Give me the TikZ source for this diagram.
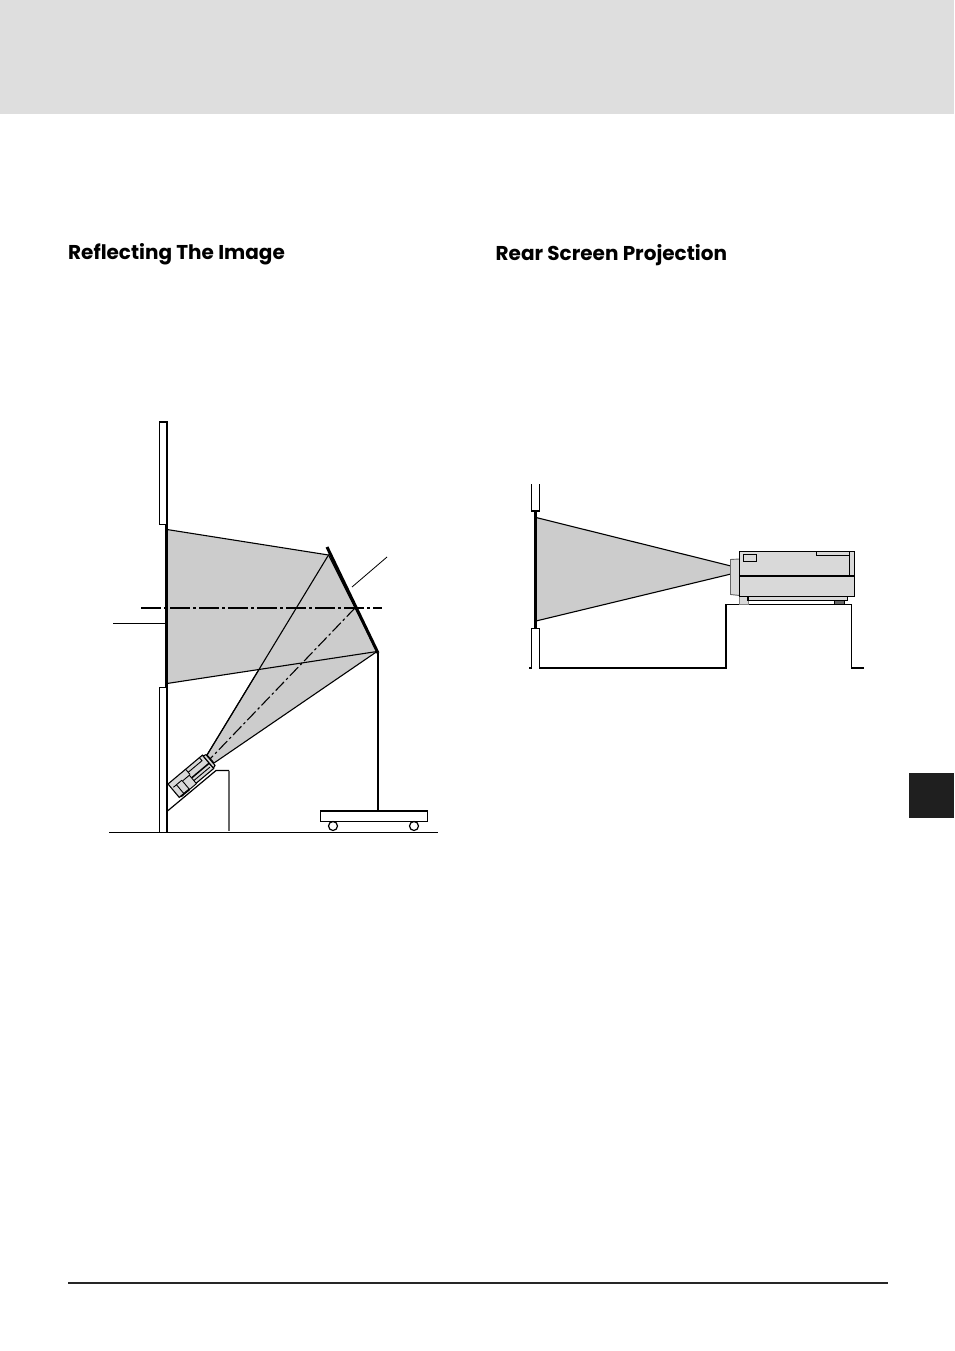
\documentclass[tikz,border=0pt]{standalone}
\usepackage{fontspec}
\setmainfont{Poppins}
\definecolor{bandgray}{gray}{0.87}
\definecolor{beamgray}{gray}{0.80}
\definecolor{bodygray}{gray}{0.85}
\tikzset{
  heading/.style={anchor=base west,inner sep=0pt,font=\fontsize{20}{24}\selectfont\bfseries},
  thin line/.style={line width=1.2pt},
  center line/.style={line width=1.1pt,dash pattern=on 20pt off 3pt on 3pt off 3pt},
  axis line/.style={line width=1.1pt,dash pattern=on 12pt off 3pt on 2.5pt off 3pt},
  screen line/.style={line width=3pt},
  beam/.style={fill=beamgray,draw=black,line width=1.1pt,line join=round},
  body/.style={fill=bodygray,draw=black,line width=1.1pt}
}
\begin{document}
\begin{tikzpicture}[x=1pt,y=-1pt]
\useasboundingbox (0,0) rectangle (954,1351);
\fill[bandgray] (0,0) rectangle (954,114);
\fill[black!88] (909,773) rectangle (954,818);
\draw[line width=2.8pt,black!85] (68,1283) -- (888,1283);
\node[heading] (lefthead) at (68,259) {Reflecting The Image};
\node[heading] (righthead) at (495.5,260) {Rear Screen Projection};

\coordinate (ltop) at (167,529.5); \coordinate (lbot) at (167,683.5);
\coordinate (mtop) at (328.5,555); \coordinate (mbot) at (377,651.5);
\coordinate (lensa) at (207,755); \coordinate (lensb) at (214,763);
\coordinate (mmid) at (355,608);
\draw[thin line] (159.5,422) rectangle (167,524.5);
\draw[thin line] (159.5,832) -- (159.5,687.5) -- (167,687.5) -- (167,832);
\draw[beam] (lensa) -- (mtop) -- (mbot) -- (lensb) -- cycle;
\draw[beam] (ltop) -- (mtop) -- (mbot) -- (lbot) -- cycle;
\draw[line width=1.1pt] (mtop) -- (lensa);
\draw[center line] (141,608) -- (382,608);
\draw[axis line] (mmid) -- (210,759);
\draw[screen line] (166,524) -- (166,688);
\draw[line width=3pt] (327,547) -- (378,653);
\draw[thin line] (113,623.5) -- (165,623.5);
\draw[line width=.8pt] (352,587) -- (387,557);
\draw[thin line] (378,653) -- (378,811);
\draw[thin line] (320.5,811) rectangle (427.5,821.5);
\draw[thin line] (333,826) circle (4.5);
\draw[thin line] (414,826) circle (4.5);
\draw[thin line] (109,832.5) -- (438,832.5);
\draw[thin line] (167.5,811) -- (216,770.5) -- (229,770.5);
\draw[line width=1.2pt,black!60] (229,770.5) -- (229,831);

\begin{scope}[shift={(168,784)},rotate=40]
\draw[body] (0,0) rectangle (45,17.5);
\draw[body] (45,1) -- (48,2) -- (48,16) -- (45,17) -- cycle;
\draw[line width=.9pt] (23,0) -- (23,7);
\draw[line width=.9pt] (23,4) -- (41,4) -- (41,0);
\draw[line width=1.5pt] (22,10.5) -- (45,10.5);
\draw[line width=.9pt] (22,14) -- (43,14);
\draw[fill=bodygray,line width=.9pt] (13,7) rectangle (22,18);
\draw[line width=.9pt] (2,6) -- (13,6);
\draw[line width=.9pt] (6,6) -- (6,17.5);
\draw[line width=1.6pt] (2,18) -- (13,18);
\end{scope}

\coordinate (rtop) at (536,517.5); \coordinate (rbot) at (536,621);
\coordinate (rlensa) at (731,566); \coordinate (rlensb) at (731,574);
\draw[thin line] (531.5,484) -- (531.5,511) -- (539.5,511) -- (539.5,484);
\draw[thin line] (529,668) -- (531.5,668) -- (531.5,628.5) -- (539.5,628.5) -- (539.5,668) -- (726,668) -- (726,604.5) -- (851.5,604.5) -- (851.5,668) -- (864,668);
\draw[beam] (rtop) -- (rlensa) -- (rlensb) -- (rbot) -- cycle;
\draw[screen line] (535.5,511) -- (535.5,628.5);
\draw[fill=bodygray,draw=black!60,line width=.9pt] (739.5,559) -- (730.5,559.5) -- (730.5,594.5) -- (739.5,595.5);
\draw[fill=bodygray,draw=black!50,line width=.7pt] (739,596) rectangle (748,604);
\draw[body] (748,596.5) rectangle (847.5,600.5);
\draw[fill=black!60,draw=black,line width=.9pt] (834.5,600.5) rectangle (844.5,604);
\draw[body] (739.5,551.5) rectangle (854.5,596.5);
\draw[thin line] (739.5,576) -- (854.5,576);
\draw[thin line] (849.5,551.5) -- (849.5,576);
\draw[thin line] (816.5,551.5) -- (816.5,555.5) -- (849.5,555.5);
\draw[thin line] (743.5,554.5) rectangle (756.5,561.5);
\end{tikzpicture}
\end{document}
